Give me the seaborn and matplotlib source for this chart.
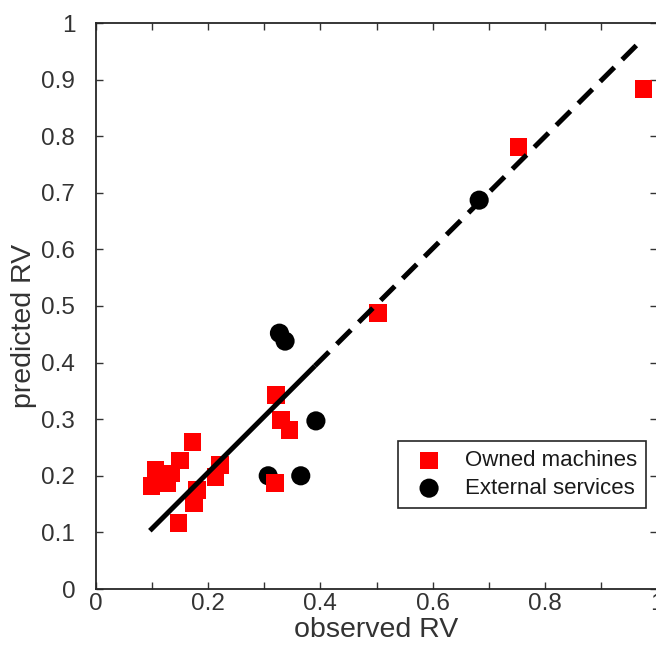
import matplotlib
matplotlib.use("Agg")
import matplotlib.pyplot as plt
import pandas as pd
import seaborn as sns

# observed vs predicted RV
owned_obs = [0.099, 0.106, 0.127, 0.134, 0.149, 0.172, 0.147, 0.174, 0.180,
             0.213, 0.221, 0.321, 0.330, 0.345, 0.319, 0.503, 0.753, 0.976]
owned_pred = [0.182, 0.210, 0.187, 0.204, 0.227, 0.260, 0.117, 0.152, 0.175,
              0.198, 0.219, 0.343, 0.298, 0.281, 0.188, 0.487, 0.781, 0.884]

external_obs = [0.307, 0.365, 0.392, 0.327, 0.337, 0.683]
external_pred = [0.200, 0.200, 0.297, 0.452, 0.438, 0.687]

# fitted line: solid over the fitted range, dashed extrapolation
fit_solid_x = [0.096, 0.390]
fit_solid_y = [0.103, 0.394]
fit_dash_x = [0.390, 0.975]
fit_dash_y = [0.394, 0.972]

ticks = [0, 0.1, 0.2, 0.3, 0.4, 0.5, 0.6, 0.7, 0.8, 0.9, 1]
xtick_labels = ["0", "", "0.2", "", "0.4", "", "0.6", "", "0.8", "", "1"]
ytick_labels = ["0", "0.1", "0.2", "0.3", "0.4", "0.5", "0.6", "0.7", "0.8", "0.9", "1"]

owned = pd.DataFrame({"observed": owned_obs, "predicted": owned_pred})
external = pd.DataFrame({"observed": external_obs, "predicted": external_pred})

sns.set_style("ticks")
plt.rcParams['font.family'] = ['Liberation Sans', 'DejaVu Sans']

fig = plt.figure(figsize=(6.56, 6.54), dpi=100)
ax = fig.add_axes([96 / 656, 65 / 654, 561 / 656, 566 / 654])

sns.scatterplot(data=external, x="observed", y="predicted", ax=ax, marker="o",
                s=190, color="black", edgecolor="none", label="External services", zorder=2)
sns.scatterplot(data=owned, x="observed", y="predicted", ax=ax, marker="s",
                s=165, color="red", edgecolor="none", label="Owned machines", zorder=3)

sns.lineplot(x=fit_solid_x, y=fit_solid_y, ax=ax, color="black", lw=3.6,
             solid_capstyle="butt", zorder=4)
dash_line = sns.lineplot(x=fit_dash_x, y=fit_dash_y, ax=ax, color="black", lw=3.6, zorder=4)
dash_line.lines[-1].set_dashes((4, 2.2))
dash_line.lines[-1].set_dash_capstyle("butt")

ax.set_xlim(0, 1)
ax.set_ylim(0, 1)
ax.set_xticks(ticks)
ax.set_xticklabels(xtick_labels)
ax.set_yticks(ticks)
ax.set_yticklabels(ytick_labels)
ax.tick_params(direction="in", length=5, width=1, colors="#333333", labelsize=17.5,
               top=True, right=True)
ax.tick_params(axis="x", pad=3)
ax.tick_params(axis="y", pad=15)
for spine in ax.spines.values():
    spine.set_visible(True)
    spine.set_linewidth(1.3)
    spine.set_color("#262626")

ax.set_xlabel("observed RV", fontsize=20.5, color="#333333", labelpad=1)
ax.set_ylabel("predicted RV", fontsize=20.5, color="#333333")
ax.yaxis.set_label_coords(-0.105, 0.465)

handles, labels = ax.get_legend_handles_labels()
order = [labels.index("Owned machines"), labels.index("External services")]
leg = ax.legend([handles[i] for i in order], [labels[i] for i in order],
                loc="center", bbox_to_anchor=(0.759, 0.202), fontsize=16,
                frameon=True, fancybox=False, framealpha=1, edgecolor="#262626",
                borderpad=0.4, handletextpad=0.6, labelspacing=0.3)
leg.get_frame().set_linewidth(1.2)
for t in leg.get_texts():
    t.set_color("#1a1a1a")

fig.savefig("out.png", dpi=100)
